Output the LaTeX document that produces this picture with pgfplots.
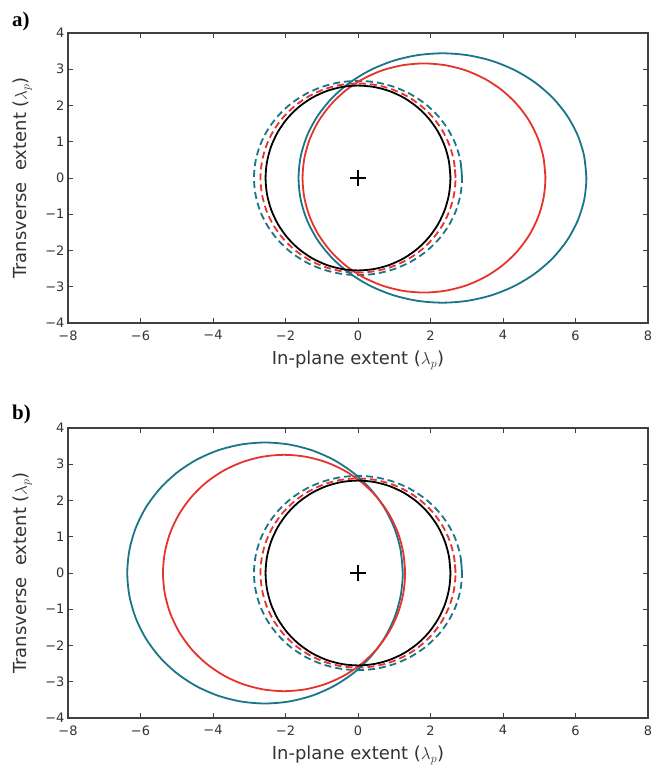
\documentclass[border=0pt]{standalone}
\usepackage{fontspec}
\setmainfont{DejaVu Sans}
\newfontfamily\serifb{Liberation Serif}
\usepackage{pgfplots}
\usepackage{pgfplotstable}
\pgfplotsset{compat=1.18}
\definecolor{tealc}{RGB}{24,118,136}
\definecolor{redc}{RGB}{232,50,44}

% black circle (shared)
\pgfplotstableread{
x y
2.550 0
2.511 0.443
2.396 0.872
2.208 1.275
1.953 1.639
1.639 1.953
1.275 2.208
0.872 2.396
0.443 2.511
0 2.550
-0.443 2.511
-0.872 2.396
-1.275 2.208
-1.639 1.953
-1.953 1.639
-2.208 1.275
-2.396 0.872
-2.511 0.443
-2.550 0
-2.511 -0.443
-2.396 -0.872
-2.208 -1.275
-1.953 -1.639
-1.639 -1.953
-1.275 -2.208
-0.872 -2.396
-0.443 -2.511
0 -2.550
0.443 -2.511
0.872 -2.396
1.275 -2.208
1.639 -1.953
1.953 -1.639
2.208 -1.275
2.396 -0.872
2.511 -0.443
2.550 0
2.511 0.443
}\blk

% red dashed (shared)
\pgfplotstableread{
x y
2.690 0
2.649 0.453
2.528 0.893
2.330 1.305
2.061 1.678
1.729 1.999
1.345 2.260
0.920 2.453
0.467 2.570
0 2.610
-0.467 2.570
-0.920 2.453
-1.345 2.260
-1.729 1.999
-2.061 1.678
-2.330 1.305
-2.528 0.893
-2.649 0.453
-2.690 0
-2.649 -0.453
-2.528 -0.893
-2.330 -1.305
-2.061 -1.678
-1.729 -1.999
-1.345 -2.260
-0.920 -2.453
-0.467 -2.570
0 -2.610
0.467 -2.570
0.920 -2.453
1.345 -2.260
1.729 -1.999
2.061 -1.678
2.330 -1.305
2.528 -0.893
2.649 -0.453
2.690 0
2.649 0.453
}\rdash

% teal dashed (shared)
\pgfplotstableread{
x y
2.870 0
2.826 0.465
2.697 0.917
2.485 1.340
2.198 1.723
1.845 2.053
1.435 2.321
0.982 2.518
0.498 2.639
0 2.680
-0.498 2.639
-0.982 2.518
-1.435 2.321
-1.845 2.053
-2.198 1.723
-2.485 1.340
-2.697 0.917
-2.826 0.465
-2.870 0
-2.826 -0.465
-2.697 -0.917
-2.485 -1.340
-2.198 -1.723
-1.845 -2.053
-1.435 -2.321
-0.982 -2.518
-0.498 -2.639
0 -2.680
0.498 -2.639
0.982 -2.518
1.435 -2.321
1.845 -2.053
2.198 -1.723
2.485 -1.340
2.697 -0.917
2.826 -0.465
2.870 0
2.826 0.465
}\tdash

% panel a teal solid
\pgfplotstableread{
x y
6.300 0
6.240 0.597
6.061 1.176
5.768 1.720
5.371 2.211
4.882 2.635
4.315 2.979
3.688 3.233
3.019 3.388
2.330 3.440
1.641 3.388
0.972 3.233
0.345 2.979
-0.222 2.635
-0.711 2.211
-1.108 1.720
-1.401 1.176
-1.580 0.597
-1.640 0
-1.580 -0.597
-1.401 -1.176
-1.108 -1.720
-0.711 -2.211
-0.222 -2.635
0.345 -2.979
0.972 -3.233
1.641 -3.388
2.330 -3.440
3.019 -3.388
3.688 -3.233
4.315 -2.979
4.882 -2.635
5.371 -2.211
5.768 -1.720
6.061 -1.176
6.240 -0.597
6.300 0
6.240 0.597
}\tA

% panel a red solid
\pgfplotstableread{
x y
5.170 0
5.119 0.549
4.968 1.081
4.721 1.580
4.386 2.031
3.973 2.421
3.495 2.737
2.966 2.970
2.402 3.112
1.820 3.160
1.238 3.112
0.674 2.970
0.145 2.737
-0.333 2.421
-0.746 2.031
-1.081 1.580
-1.328 1.081
-1.479 0.549
-1.530 0
-1.479 -0.549
-1.328 -1.081
-1.081 -1.580
-0.746 -2.031
-0.333 -2.421
0.145 -2.737
0.674 -2.970
1.238 -3.112
1.820 -3.160
2.402 -3.112
2.966 -2.970
3.495 -2.737
3.973 -2.421
4.386 -2.031
4.721 -1.580
4.968 -1.081
5.119 -0.549
5.170 0
5.119 0.549
}\rA

% panel b teal solid
\pgfplotstableread{
x y
1.235 0
1.177 0.625
1.006 1.231
0.726 1.800
0.346 2.314
-0.122 2.758
-0.665 3.118
-1.265 3.383
-1.905 3.545
-2.565 3.600
-3.225 3.545
-3.865 3.383
-4.465 3.118
-5.008 2.758
-5.476 2.314
-5.856 1.800
-6.136 1.231
-6.307 0.625
-6.365 0
-6.307 -0.625
-6.136 -1.231
-5.856 -1.800
-5.476 -2.314
-5.008 -2.758
-4.465 -3.118
-3.865 -3.383
-3.225 -3.545
-2.565 -3.600
-1.905 -3.545
-1.265 -3.383
-0.665 -3.118
-0.122 -2.758
0.346 -2.314
0.726 -1.800
1.006 -1.231
1.177 -0.625
1.235 0
1.177 0.625
}\tB

% panel b red solid
\pgfplotstableread{
x y
1.300 0
1.249 0.566
1.099 1.115
0.852 1.630
0.518 2.096
0.107 2.497
-0.370 2.823
-0.898 3.063
-1.460 3.210
-2.040 3.260
-2.620 3.210
-3.182 3.063
-3.710 2.823
-4.187 2.497
-4.598 2.096
-4.932 1.630
-5.179 1.115
-5.329 0.566
-5.380 0
-5.329 -0.566
-5.179 -1.115
-4.932 -1.630
-4.598 -2.096
-4.187 -2.497
-3.710 -2.823
-3.182 -3.063
-2.620 -3.210
-2.040 -3.260
-1.460 -3.210
-0.898 -3.063
-0.370 -2.823
0.107 -2.497
0.518 -2.096
0.852 -1.630
1.099 -1.115
1.249 -0.566
1.300 0
1.249 0.566
}\rB

\pgfplotsset{
  panel/.style={
    width=580bp, height=290bp, scale only axis,
    xmin=-8, xmax=8, ymin=-4, ymax=4,
    xtick={-8,-6,-4,-2,0,2,4,6,8},
    xticklabels={−8,−6,−4,−2,0,2,4,6,8},
    ytick={-4,-3,-2,-1,0,1,2,3,4},
    yticklabels={−4,−3,−2,−1,0,1,2,3,4},
    tick align=inside,
    major tick length=5bp,
    tick style={black!75, line width=0.9bp},
    axis line style={black!75, line width=1.3bp},
    ticklabel style={font=\fontsize{13}{15}\selectfont, text=black!80},
    xticklabel style={yshift=-4bp},
    label style={font=\fontsize{18}{21}\selectfont, text=black!80},
    xlabel={In-plane extent (\(\lambda_p\))},
    ylabel={Transverse\ \ extent (\(\lambda_p\))},
    xlabel style={at={(axis description cs:0.5,-0.1448)}, anchor=base},
    ylabel style={at={(axis description cs:-0.0707,0.5)}, anchor=base, rotate=0},
    every axis plot/.append style={line join=round, smooth, line width=1.8bp},
  },
  dashc/.style={dash pattern=on 7bp off 4bp},
}

\begin{document}
\begin{tikzpicture}
\path[use as bounding box] (0,0) rectangle (666bp,768bp);

\begin{axis}[panel, at={(68bp,445bp)}, anchor=south west]
  \addplot[tealc, dashc] table {\tdash};
  \addplot[redc, dashc] table {\rdash};
  \addplot[tealc] table {\tA};
  \addplot[redc] table {\rA};
  \addplot[black] table {\blk};
  \addplot[only marks, mark=+, mark size=8bp, black, mark options={line width=1.1bp}] coordinates {(0,0)};
\end{axis}

\begin{axis}[panel, at={(68bp,50bp)}, anchor=south west]
  \addplot[tealc, dashc] table {\tdash};
  \addplot[redc, dashc] table {\rdash};
  \addplot[tealc] table {\tB};
  \addplot[redc] table {\rB};
  \addplot[black] table {\blk};
  \addplot[only marks, mark=+, mark size=8bp, black, mark options={line width=1.1bp}] coordinates {(0,0)};
\end{axis}

\node[anchor=base west, inner sep=0pt, font=\serifb\bfseries\fontsize{21}{24}\selectfont] at (12bp,741bp) {a)};
\node[anchor=base west, inner sep=0pt, font=\serifb\bfseries\fontsize{21}{24}\selectfont] at (12bp,348bp) {b)};
\end{tikzpicture}
\end{document}
